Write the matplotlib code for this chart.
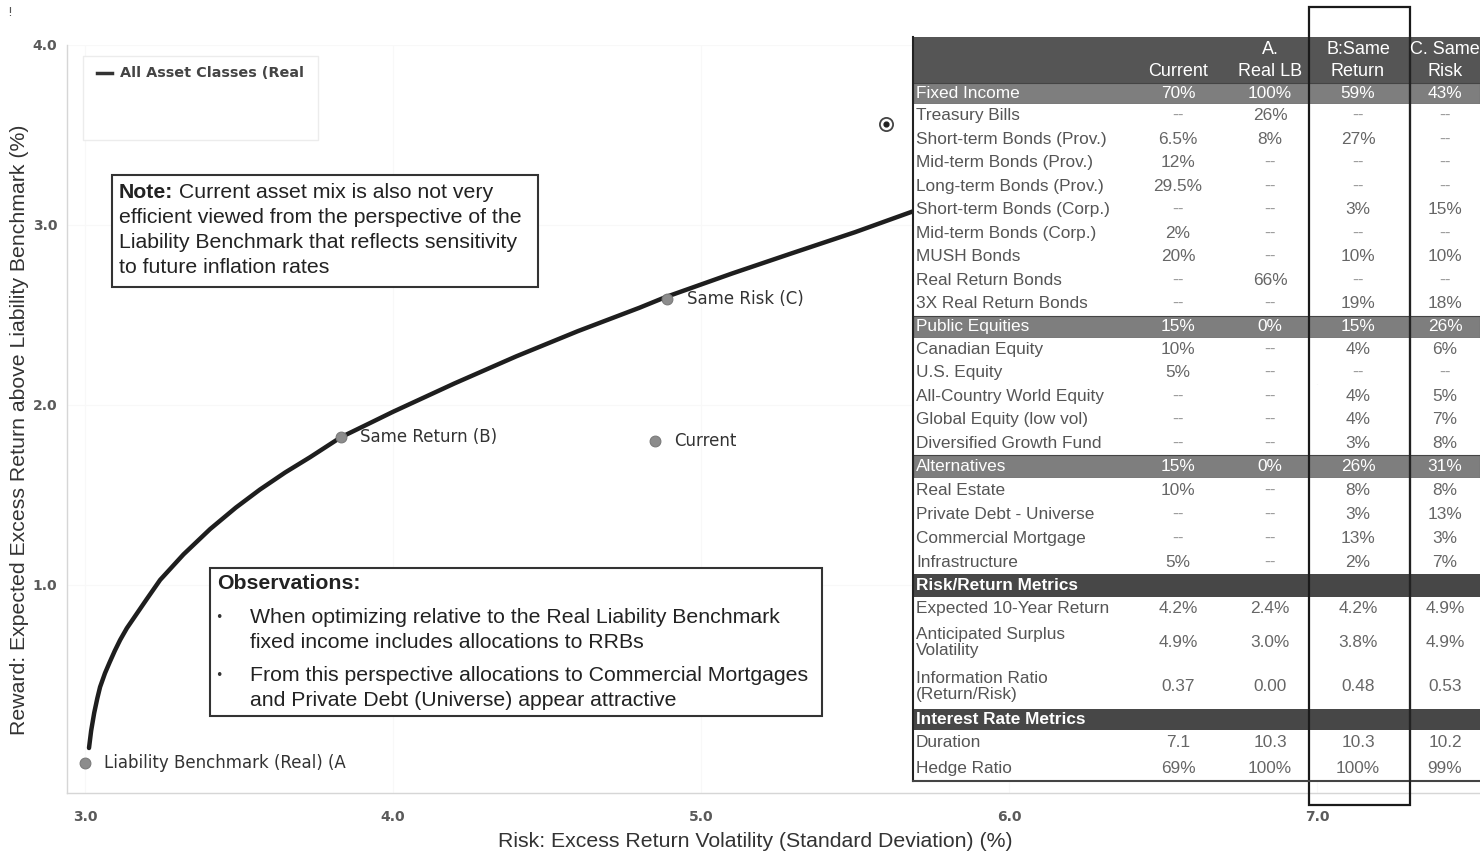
import matplotlib
matplotlib.use("Agg")
import matplotlib.pyplot as plt
from matplotlib.patches import Rectangle

# ---------------- data ----------------
frontier_risk = [3.013, 3.02, 3.03, 3.04, 3.049, 3.065, 3.08, 3.097, 3.114, 3.136, 3.16, 3.20, 3.244, 3.32,
                 3.406, 3.49, 3.568, 3.65, 3.731, 3.83, 3.92, 4.0, 4.2, 4.4, 4.6, 4.8, 4.886, 5.1, 5.29,
                 5.5, 5.695, 6.0, 6.3]
frontier_return = [0.094, 0.19, 0.29, 0.37, 0.433, 0.51, 0.57, 0.635, 0.694, 0.76, 0.82, 0.92, 1.028, 1.17,
                   1.31, 1.43, 1.53, 1.625, 1.71, 1.82, 1.895, 1.962, 2.12, 2.27, 2.41, 2.54, 2.60, 2.73, 2.84,
                   2.96, 3.08, 3.24, 3.39]

point_labels = ["Liability Benchmark (Real) (A", "Same Return (B)", "Current", "Same Risk (C)"]
point_risk = [3.0, 3.83, 4.85, 4.89]
point_return = [0.01, 1.82, 1.80, 2.59]

marker_risk = [5.60]
marker_return = [3.56]

x_ticks = [3.0, 4.0, 5.0, 6.0, 7.0]
y_ticks = [1.0, 2.0, 3.0, 4.0]

legend_label = "All Asset Classes (Real"
x_label = "Risk: Excess Return Volatility (Standard Deviation) (%)"
y_label = "Reward: Expected Excess Return above Liability Benchmark (%)"

note_bold = "Note:"
note_lines = [" Current asset mix is also not very",
              "efficient viewed from the perspective of the",
              "Liability Benchmark that reflects sensitivity",
              "to future inflation rates"]
obs_title = "Observations:"
obs_bullets = ["When optimizing relative to the Real Liability Benchmark\nfixed income includes allocations to RRBs",
               "From this perspective allocations to Commercial Mortgages\nand Private Debt (Universe) appear attractive"]

table_columns = ["Current", "A.\nReal LB", "B:Same\nReturn", "C. Same\nRisk"]

fixed_income_total = ["70%", "100%", "59%", "43%"]
fixed_income_labels = ["Treasury Bills", "Short-term Bonds (Prov.)", "Mid-term Bonds (Prov.)",
                       "Long-term Bonds (Prov.)", "Short-term Bonds (Corp.)", "Mid-term Bonds (Corp.)",
                       "MUSH Bonds", "Real Return Bonds", "3X Real Return Bonds"]
fixed_income_current = ["--", "6.5%", "12%", "29.5%", "--", "2%", "20%", "--", "--"]
fixed_income_a = ["26%", "8%", "--", "--", "--", "--", "--", "66%", "--"]
fixed_income_b = ["--", "27%", "--", "--", "3%", "--", "10%", "--", "19%"]
fixed_income_c = ["--", "--", "--", "--", "15%", "--", "10%", "--", "18%"]

equity_total = ["15%", "0%", "15%", "26%"]
equity_labels = ["Canadian Equity", "U.S. Equity", "All-Country World Equity",
                 "Global Equity (low vol)", "Diversified Growth Fund"]
equity_current = ["10%", "5%", "--", "--", "--"]
equity_a = ["--", "--", "--", "--", "--"]
equity_b = ["4%", "--", "4%", "4%", "3%"]
equity_c = ["6%", "--", "5%", "7%", "8%"]

alt_total = ["15%", "0%", "26%", "31%"]
alt_labels = ["Real Estate", "Private Debt - Universe", "Commercial Mortgage", "Infrastructure"]
alt_current = ["10%", "--", "--", "5%"]
alt_a = ["--", "--", "--", "--"]
alt_b = ["8%", "3%", "13%", "2%"]
alt_c = ["8%", "13%", "3%", "7%"]

risk_labels = ["Expected 10-Year Return", "Anticipated Surplus\nVolatility", "Information Ratio\n(Return/Risk)"]
risk_current = ["4.2%", "4.9%", "0.37"]
risk_a = ["2.4%", "3.0%", "0.00"]
risk_b = ["4.2%", "3.8%", "0.48"]
risk_c = ["4.9%", "4.9%", "0.53"]

rate_labels = ["Duration", "Hedge Ratio"]
rate_current = ["7.1", "69%"]
rate_a = ["10.3", "100%"]
rate_b = ["10.3", "100%"]
rate_c = ["10.2", "99%"]

# ---------------- figure ----------------
W, H = 1480, 855
fig = plt.figure(figsize=(W / 100, H / 100), dpi=100)
fig.patch.set_facecolor("white")

ax = fig.add_axes([67 / W, 62 / H, (W - 67) / W, (793 - 45) / H])
ax.set_xlim(2.9416, 7.529)
ax.set_ylim(-0.156, 4.0)
for s in ["top", "right"]:
    ax.spines[s].set_visible(False)
for s in ["left", "bottom"]:
    ax.spines[s].set_color("#d6d6d6")
    ax.spines[s].set_linewidth(1.0)
ax.set_xticks(x_ticks)
ax.set_yticks(y_ticks)
ax.set_xticklabels([f"{v:.1f}" for v in x_ticks])
ax.set_yticklabels([f"{v:.1f}" for v in y_ticks])
ax.tick_params(axis="both", length=0, labelsize=10, labelcolor="#5a5a5a")
for lab in ax.get_xticklabels() + ax.get_yticklabels():
    lab.set_fontweight("bold")
    lab.set_family("DejaVu Sans")
ax.tick_params(axis="x", pad=12)
ax.tick_params(axis="y", pad=7)
ax.grid(True, color="#f8f8f8", linewidth=0.8)
ax.set_axisbelow(True)

ax.plot(frontier_risk, frontier_return, color="#1e1e1e", linewidth=3.2, solid_capstyle="round",
        solid_joinstyle="round", zorder=3)
ax.scatter(point_risk, point_return, s=60, color="#8c8c8c", edgecolors="#7a7a7a", linewidths=0.8, zorder=4)
for lbl, xx, yy in zip(point_labels, point_risk, point_return):
    ax.annotate(lbl, (xx, yy), xytext=(14, 0), textcoords="offset points", va="center", ha="left",
                fontsize=12, color="#333333", family="DejaVu Sans")
ax.scatter(marker_risk, marker_return, s=90, facecolor="white", edgecolors="#444444", linewidths=1.3, zorder=4)
ax.scatter(marker_risk, marker_return, s=12, color="#222222", zorder=5)

# ---------------- overlay in pixel coordinates ----------------
ov = fig.add_axes([0, 0, 1, 1], zorder=10)
ov.set_xlim(0, W)
ov.set_ylim(H, 0)
ov.axis("off")
ov.patch.set_alpha(0)

ov.text(10, 12, "!", fontsize=9, color="#555555", ha="center", va="center")

BIG = 15.3
# axis labels
ov.text(755, 841, x_label, fontsize=BIG, family="Liberation Sans", color="#333333", ha="center", va="center")
ov.text(20, 430, y_label, fontsize=BIG, family="Liberation Sans", color="#333333", ha="center", va="center",
        rotation=90)

# legend box
ov.add_patch(Rectangle((83, 56), 235, 84, facecolor="white", edgecolor="#ececec", linewidth=1.0))
ov.plot([97, 112], [73, 73], color="#333333", linewidth=2.5)
ov.text(120, 73, legend_label, fontsize=10.4, fontweight="bold", color="#444444", ha="left", va="center",
        family="DejaVu Sans")

# note box
ov.add_patch(Rectangle((112, 175), 426, 112, facecolor="white", edgecolor="#333333", linewidth=1.5))
for i, line in enumerate(note_lines):
    yy = 192 + i * 25
    if i == 0:
        t = ov.text(119, yy, note_bold, fontsize=BIG, fontweight="bold", family="Liberation Sans",
                    color="#222222", ha="left", va="center")
        ov.annotate(line, xy=(1, 0.5), xycoords=t, ha="left", va="center", fontsize=BIG,
                    family="Liberation Sans", color="#222222")
    else:
        ov.text(119, yy, line, fontsize=BIG, family="Liberation Sans", color="#222222",
                ha="left", va="center")

# observations box
ov.add_patch(Rectangle((210, 568), 612, 148, facecolor="white", edgecolor="#333333", linewidth=1.5))
ov.text(217, 583, obs_title, fontsize=BIG, fontweight="bold", family="Liberation Sans", color="#222222",
        ha="left", va="center")
bullet_y = [617, 675]
for by, btxt in zip(bullet_y, obs_bullets):
    ov.text(219, by, "\u2022", fontsize=9, color="#333333", ha="center", va="center")
    for j, ln in enumerate(btxt.split("\n")):
        ov.text(250, by + j * 25, ln, fontsize=BIG, family="Liberation Sans", color="#222222",
                ha="left", va="center")

# ---------------- table ----------------
TX0, TX1 = 913, 1480
col_x = [1178, 1270, 1358, 1445]
label_x = 916
FS = 12.4
tf = "Liberation Sans"

rows = []  # (label, values, kind, height)
rows.append(("Fixed Income", fixed_income_total, "sub", 21))
for i, lbl in enumerate(fixed_income_labels):
    rows.append((lbl, [fixed_income_current[i], fixed_income_a[i], fixed_income_b[i], fixed_income_c[i]], "item", 23.5))
rows.append(("Public Equities", equity_total, "sub", 22))
for i, lbl in enumerate(equity_labels):
    rows.append((lbl, [equity_current[i], equity_a[i], equity_b[i], equity_c[i]], "item", 23.5))
rows.append(("Alternatives", alt_total, "sub", 23))
for i, lbl in enumerate(alt_labels):
    rows.append((lbl, [alt_current[i], alt_a[i], alt_b[i], alt_c[i]], "item", 24))
rows.append(("Risk/Return Metrics", None, "sec", 23))
for i, lbl in enumerate(risk_labels):
    rows.append((lbl, [risk_current[i], risk_a[i], risk_b[i], risk_c[i]], "item", 23 if "\n" not in lbl else 44.5))
rows.append(("Interest Rate Metrics", None, "sec", 21))
for i, lbl in enumerate(rate_labels):
    rows.append((lbl, [rate_current[i], rate_a[i], rate_b[i], rate_c[i]], "item", 25.5))

# header
hdr_top, hdr_bot = 37, 83
ov.add_patch(Rectangle((TX0, hdr_top), TX1 - TX0, hdr_bot - hdr_top, facecolor="#555555", edgecolor="none"))
for cx, name in zip(col_x, table_columns):
    parts = name.split("\n")
    if len(parts) == 1:
        ov.text(cx, 71, parts[0], fontsize=13, family=tf, color="white", ha="center", va="center")
    else:
        ov.text(cx, 50, parts[0], fontsize=13, family=tf, color="white", ha="center", va="center")
        ov.text(cx, 71, parts[1], fontsize=13, family=tf, color="white", ha="center", va="center")

y = hdr_bot
for lbl, vals, kind, h in rows:
    if kind == "sub":
        ov.add_patch(Rectangle((TX0, y), TX1 - TX0, h, facecolor="#7e7e7e", edgecolor="none"))
        ov.add_patch(Rectangle((TX0, y), TX1 - TX0, h, facecolor="none", edgecolor="#444444", linewidth=0.8))
        ov.text(label_x, y + h / 2, lbl, fontsize=FS, family=tf, color="white", ha="left", va="center")
        for cx, v in zip(col_x, vals):
            ov.text(cx, y + h / 2, v, fontsize=FS, family=tf, color="white", ha="center", va="center")
    elif kind == "sec":
        ov.add_patch(Rectangle((TX0, y), TX1 - TX0, h, facecolor="#474747", edgecolor="none"))
        ov.text(label_x, y + h / 2, lbl, fontsize=FS, fontweight="bold", family=tf, color="white",
                ha="left", va="center")
    else:
        ov.add_patch(Rectangle((TX0, y), TX1 - TX0, h, facecolor="white", edgecolor="none"))
        ov.text(label_x, y + h / 2, lbl, fontsize=FS, family=tf, color="#555555", ha="left", va="center",
                linespacing=1.1)
        for cx, v in zip(col_x, vals):
            c = "#9a9a9a" if v == "--" else "#666666"
            ov.text(cx, y + h / 2, v, fontsize=FS, family=tf, color=c, ha="center", va="center")
    y += h
tbl_bot = y

# table borders
ov.plot([TX0, TX0], [hdr_top, tbl_bot], color="#222222", linewidth=1.5)
ov.plot([TX0, TX1], [tbl_bot, tbl_bot], color="#444444", linewidth=1.5)
ov.plot([1410, 1410], [hdr_top, tbl_bot], color="#222222", linewidth=1.5)
# highlighted B column box
ov.add_patch(Rectangle((1309, 7), 101, 798, facecolor="none", edgecolor="#1a1a1a", linewidth=1.6))

fig.savefig("out.png", dpi=100, facecolor="white")
